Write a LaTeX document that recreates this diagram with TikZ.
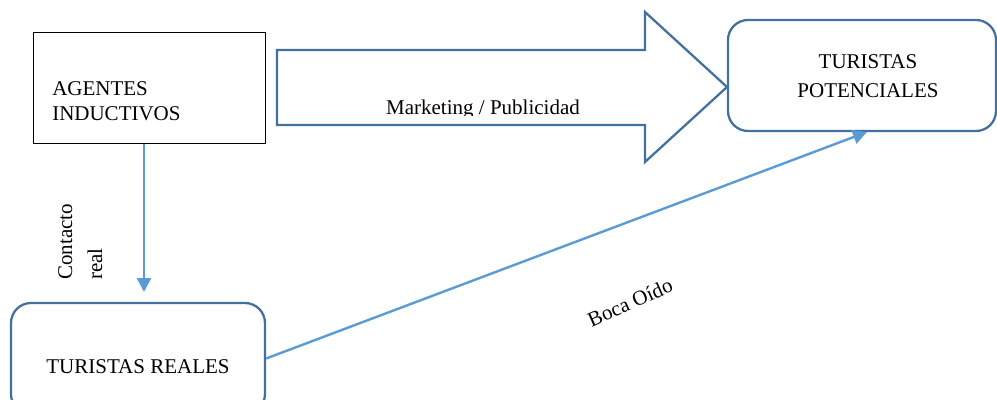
\documentclass[tikz,border=0pt]{standalone}
\usepackage{fontspec}
\setmainfont{Liberation Serif}
\usetikzlibrary{arrows.meta}
\definecolor{darkblue}{HTML}{41719C}
\definecolor{lightblue}{HTML}{5B9BD5}
\begin{document}
\begin{tikzpicture}[x=0.75pt,y=-0.75pt,
  txt/.style={font=\fontsize{15.75}{20}\selectfont, inner sep=0pt},
  plainbox/.style={draw=black, line width=0.75pt, rectangle, inner sep=0pt},
  rbox/.style={draw=darkblue, line width=1.7pt, rectangle, rounded corners=15pt, inner sep=0pt},
  conn/.style={draw=lightblue, line width=1.8pt, -{Triangle[length=10.5pt,width=10.5pt]}},
  bigarrow/.style={draw=darkblue, line width=1.7pt, line join=miter}]
\clip (0,0) rectangle (997,400);
\fill[white] (0,0) rectangle (997,400);
% boxes
\node[plainbox, minimum width=174pt, minimum height=83.25pt] (ag) at (149,87.5) {};
\node[rbox, minimum width=201pt, minimum height=83.25pt] (pot) at (862,75.5) {};
\node[rbox, minimum width=190.5pt, minimum height=83.25pt] (real) at (138,358.5) {};
% texts
\node[txt, anchor=base west] (ag1) at (52,95) {AGENTES};
\node[txt, anchor=base west] (ag2) at (52,120) {INDUCTIVOS};
\node[txt, anchor=base] (pot1) at (868,68) {TURISTAS};
\node[txt, anchor=base] (pot2) at (868,97) {POTENCIALES};
\node[txt, anchor=base] (realt) at (138,373) {TURISTAS REALES};
% big arrow
\draw[bigarrow] (277,50) -- (645,50) -- (645,12) -- (727,87) -- (645,162) -- (645,125) -- (277,125) -- cycle;
\begin{scope}
\clip (280,60) rectangle (640,115);
\node[txt, anchor=base] (mkt) at (483,114.5) {Marketing / Publicidad};
\end{scope}
% connectors
\coordinate (c1) at (144,292);
\draw[conn] (ag.south -| c1) -- (c1);
\coordinate (c2) at (867,132);
\draw[conn] (real.east) -- (c2);
% labels
\node[txt, anchor=base west, rotate=90] (cl1) at (72,280) {Contacto};
\node[txt, anchor=base west, rotate=90] (cl2) at (102,280) {real};
\node[txt, anchor=base, rotate=24] (boca) at (633,309) {Boca Oído};
\end{tikzpicture}
\end{document}
